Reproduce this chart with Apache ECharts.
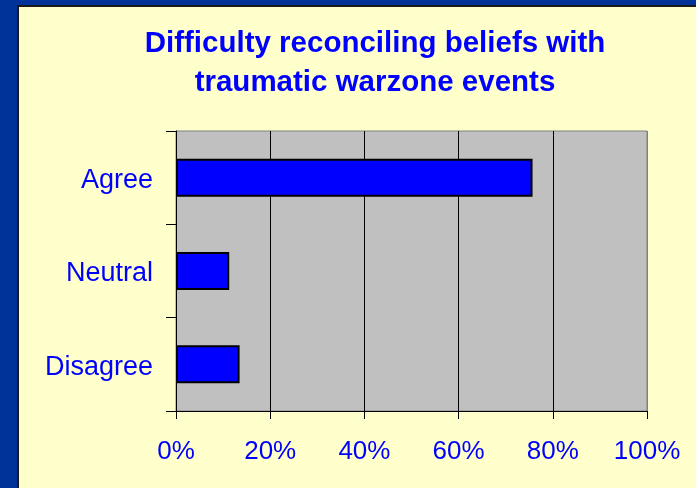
<!DOCTYPE html>
<html>
<head>
<meta charset="utf-8">
<script src="https://cdn.jsdelivr.net/npm/echarts@6/dist/echarts.min.js"></script>
<style>
html,body{margin:0;padding:0;background:#003399;}
#chart{width:696px;height:488px;}
</style>
</head>
<body>
<div id="chart"></div>
<script>
var titleText = 'Difficulty reconciling beliefs with\ntraumatic warzone events';
var categories = ['Agree', 'Neutral', 'Disagree'];
var values = [75.7, 11.3, 13.5];
var xTicks = [0, 20, 40, 60, 80, 100];

var chart = echarts.init(document.getElementById('chart'), null, {renderer: 'canvas'});
var option = {
  backgroundColor: '#003399',
  animation: false,
  graphic: [
    {type: 'rect', z: -10, shape: {x: 17, y: 5, width: 700, height: 500}, style: {fill: '#1a1a1a'}},
    {type: 'rect', z: -9, shape: {x: 19, y: 7, width: 700, height: 500}, style: {fill: '#FFFFCC'}},
    {type: 'text', z: 10, x: 375, y: 24, style: {
      text: titleText, fill: '#0000FF', font: 'bold 29.5px "Liberation Sans", Arial, sans-serif',
      align: 'center', verticalAlign: 'top', lineHeight: 39
    }}
  ],
  grid: {
    left: 176, right: 49, top: 131, bottom: 77,
    show: true, backgroundColor: '#C0C0C0', borderColor: '#808080', borderWidth: 1
  },
  xAxis: {
    type: 'value', min: xTicks[0], max: xTicks[xTicks.length - 1], interval: 20,
    axisLine: {show: true, lineStyle: {color: '#000', width: 1}},
    axisTick: {show: true, length: 8, lineStyle: {color: '#000'}},
    splitLine: {show: true, lineStyle: {color: ['#000', '#000', '#000', '#000', '#000', '#808080'], width: 1}},
    axisLabel: {
      color: '#0000FF', fontSize: 26, fontFamily: '"Liberation Sans", Arial, sans-serif',
      margin: 28, formatter: '{value}%'
    }
  },
  yAxis: {
    type: 'category', data: categories, inverse: true,
    axisLine: {show: true, lineStyle: {color: '#000', width: 1}},
    axisTick: {show: true, length: 10, lineStyle: {color: '#000'}},
    splitLine: {show: false},
    axisLabel: {
      margin: 23,
      formatter: '{a|{value}}',
      rich: {
        a: {color: '#0000FF', fontSize: 27, fontFamily: '"Liberation Sans", Arial, sans-serif',
            padding: [6, 0, 0, 0]}
      }
    }
  },
  series: [{
    type: 'bar', data: values, barWidth: 38,
    itemStyle: {color: '#0000FF', borderColor: '#000', borderWidth: 2}
  }]
};
chart.setOption(option);
</script>
</body>
</html>
